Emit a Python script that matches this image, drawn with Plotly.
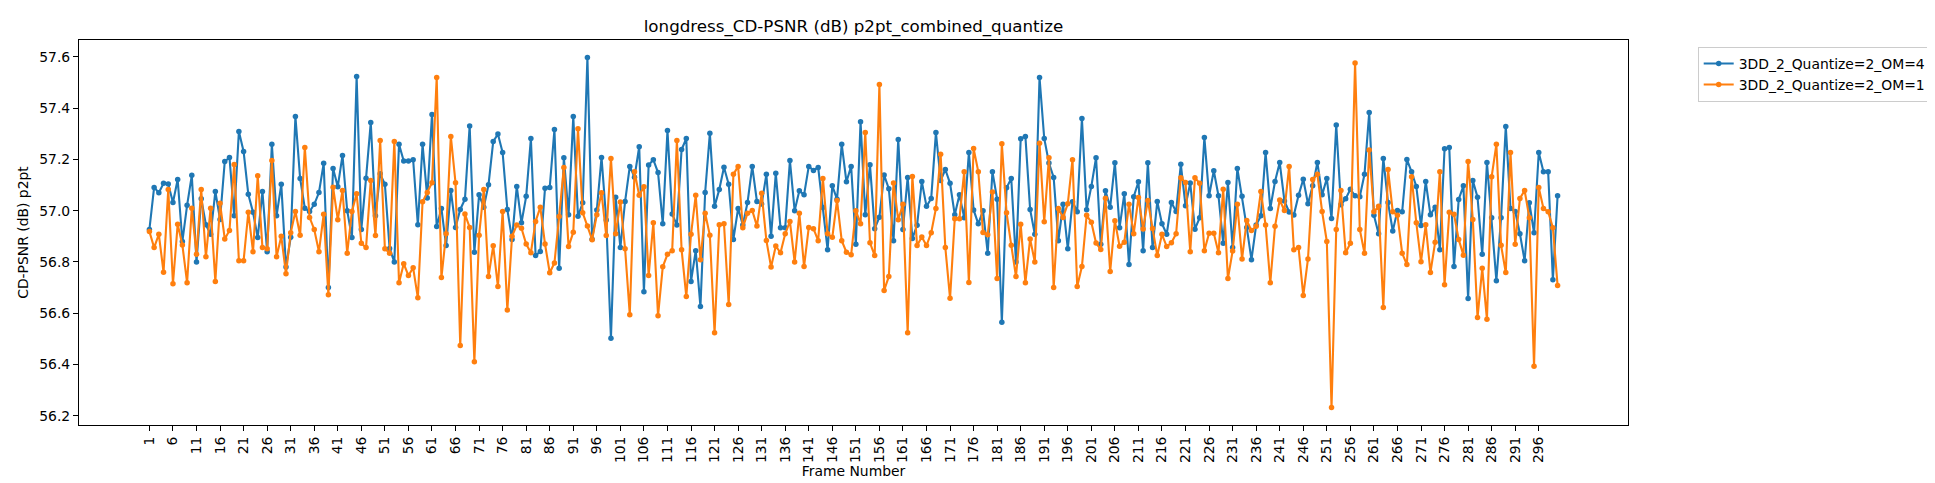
import plotly.graph_objects as go

frames = list(range(1, 301))
tick_vals = list(range(1, 300, 5))
tick_text = [str(v) for v in tick_vals]
y_ticks = [56.2, 56.4, 56.6, 56.8, 57.0, 57.2, 57.4, 57.6]

series_names = ["3DD_2_Quantize=2_OM=4", "3DD_2_Quantize=2_OM=1"]

om4 = [
    56.927, 57.091, 57.070, 57.107, 57.104, 57.032, 57.122, 56.880, 57.021, 57.138,
    56.800, 57.047, 56.945, 56.908, 57.075, 56.966, 57.192, 57.208, 56.980, 57.309,
    57.231, 57.064, 56.994, 56.895, 57.075, 56.840, 57.259, 56.980, 57.103, 56.780,
    56.896, 57.368, 57.126, 57.010, 56.997, 57.025, 57.071, 57.185, 56.700, 57.165,
    57.094, 57.216, 57.000, 56.895, 57.524, 56.927, 57.127, 57.344, 56.980, 57.144,
    57.103, 56.853, 56.800, 57.259, 57.194, 57.194, 57.199, 56.945, 57.259, 57.050,
    57.376, 56.938, 57.009, 56.864, 57.079, 56.935, 57.005, 57.045, 57.331, 56.838,
    57.062, 57.014, 57.101, 57.270, 57.299, 57.227, 57.005, 56.888, 57.095, 56.953,
    57.056, 57.282, 56.825, 56.841, 57.088, 57.091, 57.317, 56.775, 57.207, 56.984,
    57.368, 56.978, 57.031, 57.598, 56.889, 57.003, 57.208, 56.964, 56.502, 57.053,
    56.856, 57.036, 57.173, 57.131, 57.250, 56.684, 57.178, 57.199, 57.149, 56.949,
    57.313, 56.987, 56.944, 57.239, 57.282, 56.724, 56.844, 56.626, 57.071, 57.302,
    57.017, 57.083, 57.170, 57.103, 56.888, 57.009, 56.944, 57.032, 57.173, 57.036,
    57.026, 57.142, 56.900, 57.146, 56.934, 56.934, 57.196, 57.000, 57.078, 57.062,
    57.173, 57.157, 57.169, 57.013, 56.848, 57.097, 57.045, 57.259, 57.113, 57.173,
    56.869, 57.347, 56.984, 57.179, 56.930, 56.975, 57.139, 57.086, 56.883, 57.278,
    56.927, 57.130, 56.892, 56.943, 57.114, 57.017, 57.048, 57.305, 57.118, 57.161,
    57.107, 56.984, 57.062, 56.973, 57.227, 57.003, 56.949, 57.000, 56.834, 57.152,
    57.045, 56.565, 57.090, 57.126, 56.800, 57.281, 57.290, 57.005, 56.908, 57.520,
    57.282, 57.186, 57.130, 56.883, 57.025, 56.852, 57.035, 56.996, 57.360, 57.004,
    57.095, 57.207, 56.869, 57.078, 57.014, 57.187, 56.934, 57.066, 56.790, 57.055,
    57.113, 56.844, 57.187, 56.856, 57.036, 56.949, 56.908, 57.032, 56.997, 57.181,
    57.019, 57.108, 56.928, 56.973, 57.286, 57.058, 57.156, 57.058, 56.873, 57.110,
    56.856, 57.165, 57.056, 56.935, 56.809, 56.944, 56.980, 57.227, 57.009, 57.114,
    57.188, 57.038, 56.995, 56.983, 57.060, 57.123, 57.027, 57.097, 57.188, 57.062,
    57.126, 56.970, 57.335, 57.023, 57.047, 57.084, 57.058, 57.055, 57.142, 57.383,
    56.982, 56.910, 57.204, 57.032, 56.921, 57.001, 56.996, 57.200, 57.152, 57.095,
    56.942, 57.114, 56.984, 57.014, 56.848, 57.242, 57.247, 56.782, 57.044, 57.097,
    56.657, 57.118, 57.053, 56.830, 57.188, 56.973, 56.727, 56.973, 57.329, 57.009,
    56.997, 56.910, 56.805, 57.031, 56.914, 57.227, 57.152, 57.152, 56.731, 57.058,
]

om1 = [
    56.919, 56.856, 56.908, 56.760, 57.083, 56.715, 56.947, 56.866, 56.719, 57.010,
    56.830, 57.083, 56.820, 57.010, 56.724, 57.029, 56.890, 56.923, 57.180, 56.805,
    56.805, 56.994, 56.840, 57.136, 56.856, 56.852, 57.196, 56.820, 56.900, 56.754,
    56.914, 56.997, 56.904, 57.247, 56.974, 56.927, 56.840, 56.986, 56.672, 57.092,
    56.965, 57.079, 56.834, 56.997, 57.066, 56.873, 56.856, 57.118, 56.903, 57.274,
    56.852, 56.834, 57.270, 56.719, 56.793, 56.747, 56.777, 56.660, 57.035, 57.071,
    57.109, 57.520, 56.739, 56.910, 57.290, 57.109, 56.474, 56.987, 56.935, 56.411,
    56.904, 57.083, 56.743, 56.863, 56.704, 56.997, 56.613, 56.900, 56.944, 56.932,
    56.870, 56.836, 56.958, 57.014, 56.870, 56.758, 56.796, 56.977, 57.169, 56.860,
    56.916, 57.320, 56.992, 56.940, 56.887, 56.984, 57.070, 56.903, 57.204, 56.910,
    57.034, 56.852, 56.594, 57.152, 57.060, 57.094, 56.747, 56.953, 56.590, 56.781,
    56.830, 56.844, 57.274, 56.848, 56.665, 56.908, 57.060, 56.809, 56.990, 56.904,
    56.524, 56.945, 56.949, 56.634, 57.142, 57.173, 56.934, 56.990, 57.001, 56.940,
    57.068, 56.884, 56.780, 56.862, 56.836, 56.910, 56.958, 56.800, 56.990, 56.782,
    56.935, 56.930, 56.883, 57.126, 56.910, 56.896, 57.040, 56.883, 56.838, 56.828,
    57.000, 56.949, 57.305, 56.875, 56.825, 57.493, 56.689, 56.743, 57.108, 56.965,
    57.025, 56.524, 57.134, 56.864, 56.897, 56.864, 56.914, 57.009, 57.220, 56.856,
    56.658, 56.969, 56.969, 57.152, 56.720, 57.243, 57.152, 56.915, 56.906, 57.073,
    56.735, 57.261, 56.992, 56.865, 56.743, 56.947, 56.719, 56.890, 56.800, 57.263,
    56.957, 57.207, 56.700, 57.009, 56.974, 57.027, 57.199, 56.704, 56.782, 56.982,
    56.955, 56.874, 56.849, 57.049, 56.763, 56.961, 56.861, 56.877, 57.025, 56.910,
    57.052, 56.929, 57.040, 56.931, 56.825, 56.908, 56.860, 56.875, 56.910, 57.129,
    57.110, 56.840, 57.129, 57.107, 56.844, 56.912, 56.912, 56.836, 57.084, 56.735,
    56.843, 57.025, 56.812, 56.962, 56.923, 56.939, 57.075, 56.944, 56.719, 56.939,
    57.042, 57.001, 57.173, 56.848, 56.856, 56.669, 56.812, 57.122, 57.142, 56.997,
    56.880, 56.232, 56.927, 57.079, 56.836, 56.873, 57.577, 56.927, 56.834, 57.237,
    56.996, 57.017, 56.622, 57.161, 56.996, 56.982, 56.834, 56.790, 57.133, 56.953,
    56.801, 56.945, 56.759, 56.877, 57.152, 56.711, 56.994, 56.986, 56.888, 56.826,
    57.192, 56.966, 56.583, 56.775, 56.576, 57.133, 57.259, 56.865, 56.759, 57.227,
    56.869, 57.048, 57.079, 56.973, 56.393, 57.091, 57.009, 56.996, 56.934, 56.708,
]

colors = ["#1f77b4", "#ff7f0e"]
FONT = "DejaVu Sans"

fig = go.Figure()
for name, vals, col in zip(series_names, [om4, om1], colors):
    fig.add_trace(go.Scatter(
        x=frames, y=vals, name=name, mode="lines+markers",
        line=dict(color=col, width=2.1),
        marker=dict(color=col, size=5.5),
    ))

# matplotlib-style 5% margins
xmin, xmax = min(frames), max(frames)
xpad = (xmax - xmin) * 0.05
allv = om4 + om1
ymin, ymax = min(allv), max(allv)
ypad = (ymax - ymin) * 0.05

axis_common = dict(
    showgrid=False, zeroline=False, showline=True, mirror=True,
    linecolor="black", linewidth=1.1, ticks="outside", ticklen=5,
    tickwidth=1.1, tickcolor="black",
    tickfont=dict(family=FONT, size=13.9, color="black"),
)

fig.update_layout(
    width=1935, height=483,
    margin=dict(l=71, r=315, t=32, b=66, autoexpand=False),
    paper_bgcolor="white", plot_bgcolor="white",
    font=dict(family=FONT, color="black"),
    title=dict(
        text="longdress_CD-PSNR (dB) p2pt_combined_quantize",
        font=dict(family=FONT, size=16.7, color="black"),
        x=0.5, xref="paper", xanchor="center",
        y=1 - 18 / 483, yref="container", yanchor="middle",
    ),
    xaxis=dict(
        range=[xmin - xpad, xmax + xpad],
        tickmode="array", tickvals=tick_vals, ticktext=tick_text,
        tickangle=-90,
        title=dict(text="Frame Number", font=dict(family=FONT, size=13.9, color="black"), standoff=1),
        **axis_common,
    ),
    yaxis=dict(
        range=[ymin - ypad, ymax + ypad],
        tickmode="array", tickvals=y_ticks, ticktext=[f"{v:.1f}" for v in y_ticks],
        title=dict(text="CD-PSNR (dB) p2pt", font=dict(family=FONT, size=13.9, color="black"), standoff=7),
        **axis_common,
    ),
    legend=dict(
        x=1.045, y=0.982, xanchor="left", yanchor="top",
        bordercolor="#cccccc", borderwidth=1, bgcolor="white",
        font=dict(family=FONT, size=13.9, color="black"),
        tracegroupgap=0,
    ),
    showlegend=True,
)

fig.write_html("out.html", config={"displayModeBar": False})
